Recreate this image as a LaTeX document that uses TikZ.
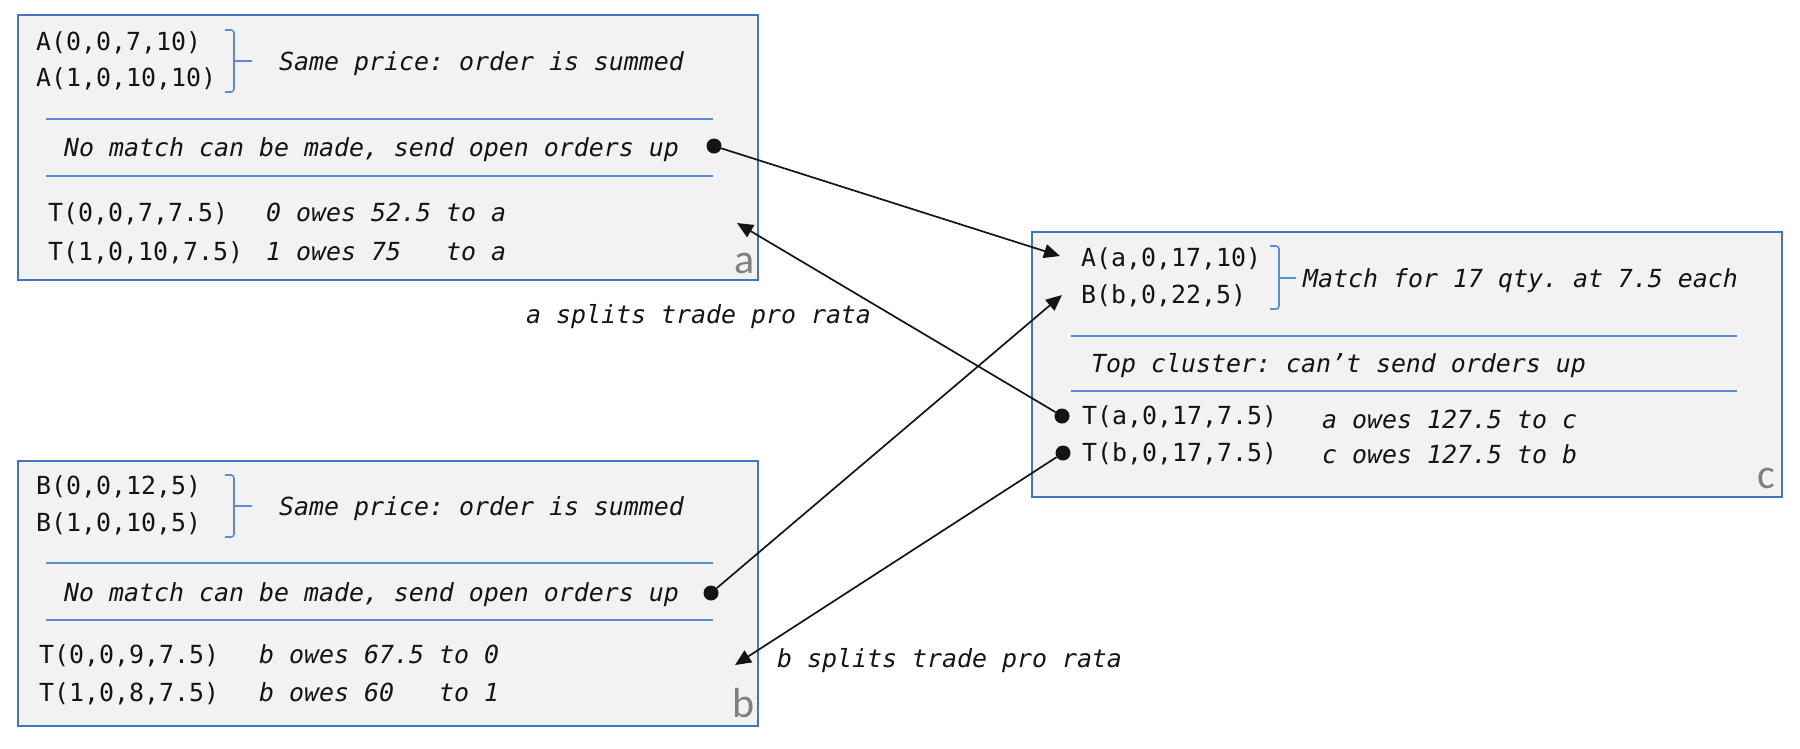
\documentclass[tikz,border=0pt]{standalone}
\usepackage{fontspec}
\setmonofont{DejaVu Sans Mono}
\newfontfamily\labfont{Carlito}
\usetikzlibrary{arrows.meta}
\definecolor{boxblue}{RGB}{68,114,196}
\definecolor{rulblue}{RGB}{91,139,214}
\definecolor{boxfill}{RGB}{242,242,242}
\definecolor{labgray}{RGB}{128,128,128}
\definecolor{ink}{RGB}{20,20,20}
\begin{document}
\begin{tikzpicture}[x=1pt,y=-1pt,
  panel/.style={draw=boxblue, line width=1.8pt, fill=boxfill, anchor=north west, inner sep=0pt, minimum height=265pt},
  code/.style={anchor=west, inner sep=0pt, font=\fontsize{24.9}{30}\selectfont\ttfamily, text=ink, text height=20pt, text depth=4pt},
  note/.style={code, font=\fontsize{24.9}{30}\selectfont\ttfamily\itshape},
  tag/.style={anchor=base east, inner sep=0pt, font=\fontsize{42}{48}\selectfont\labfont, text=labgray},
  divider/.style={draw=rulblue, line width=1.8pt},
  brk/.style={draw=rulblue, line width=1.6pt, rounded corners=3pt},
  blob/.style={circle, fill=ink, inner sep=0pt, minimum size=15pt},
  link/.style={draw=ink, line width=1.7pt, -{Triangle[length=16pt,width=14pt]}},
]
\useasboundingbox (0,0) rectangle (1800,748);

% panel a
\node[panel, minimum width=740pt] (boxa) at (17,14) {};
\node[code] (a1) at (36,42) {A(0,0,7,10)};
\node[code] (a2) at (36,78) {A(1,0,10,10)};
\draw[brk] (225,30) -- (234,30) -- (234,92) -- (225,92);
\draw[brk] (234,61) -- (252,61);
\node[note] (as) at (279,62) {Same price: order is summed};
\draw[divider] (46,119) -- (713,119);
\node[note] (an) at (64,148) {No match can be made, send open orders up};
\node[blob] (da) at (714,146) {};
\draw[divider] (46,176) -- (713,176);
\node[code] (at1) at (48,213) {T(0,0,7,7.5)};
\node[note] (ao1) at (266,213) {0 owes 52.5 to a};
\node[code] (at2) at (48,252) {T(1,0,10,7.5)};
\node[note] (ao2) at (266,252) {1 owes 75\phantom{.5} to a};
\node[tag] (la) at (755,273) {a};

% panel b
\node[panel, minimum width=740pt] (boxb) at (17,460) {};
\node[code] (b1) at (36,486) {B(0,0,12,5)};
\node[code] (b2) at (36,523) {B(1,0,10,5)};
\draw[brk] (225,475) -- (234,475) -- (234,537) -- (225,537);
\draw[brk] (234,506) -- (252,506);
\node[note] (bs) at (279,507) {Same price: order is summed};
\draw[divider] (46,563) -- (713,563);
\node[note] (bn) at (64,593) {No match can be made, send open orders up};
\node[blob] (db) at (711,593) {};
\draw[divider] (46,620) -- (713,620);
\node[code] (bt1) at (39,655) {T(0,0,9,7.5)};
\node[note] (bo1) at (259,655) {b owes 67.5 to 0};
\node[code] (bt2) at (39,693) {T(1,0,8,7.5)};
\node[note] (bo2) at (259,693) {b owes 60\phantom{.5} to 1};
\node[tag] (lb) at (755,717) {b};

% panel c
\node[panel, minimum width=750pt] (boxc) at (1031,231) {};
\node[code] (c1) at (1081,258) {A(a,0,17,10)};
\node[code] (c2) at (1081,295) {B(b,0,22,5)};
\draw[brk] (1270,246) -- (1279,246) -- (1279,309) -- (1270,309);
\draw[brk] (1279,278) -- (1296,278);
\node[note] (cm) at (1303,279) {Match for 17 qty. at 7.5 each};
\draw[divider] (1071,336) -- (1737,336);
\node[note] (ctop) at (1091,364) {Top cluster: can’t send orders up};
\draw[divider] (1071,391) -- (1737,391);
\node[code] (ct1) at (1082,416) {T(a,0,17,7.5)};
\node[note] (co1) at (1322,420) {a owes 127.5 to c};
\node[code] (ct2) at (1082,453) {T(b,0,17,7.5)};
\node[note] (co2) at (1322,455) {c owes 127.5 to b};
\node[blob] (dca) at (1062,416) {};
\node[blob] (dcb) at (1063,453) {};
\node[tag] (lc) at (1775,488) {c};

% outside labels
\node[note] (sa) at (526,315) {a splits trade pro rata};
\node[note] (sb) at (777,659) {b splits trade pro rata};

% arrow ends
\coordinate (ta) at (1060,256);
\coordinate (tb) at (1062,295);
\coordinate (tra) at (737,223);
\coordinate (trb) at (735,665);

\draw[link] (da) -- (ta);
\draw[link] (db) -- (tb);
\draw[link] (dca) -- (tra);
\draw[link] (dcb) -- (trb);
\end{tikzpicture}
\end{document}
